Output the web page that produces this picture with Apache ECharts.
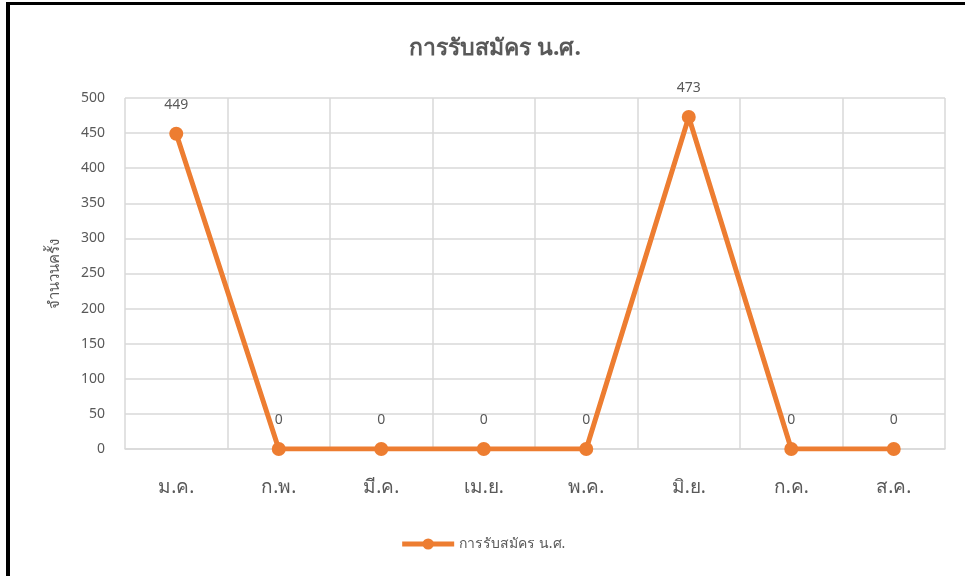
<!DOCTYPE html>
<html>
<head>
<meta charset="utf-8">
<title>การรับสมัคร น.ศ.</title>
<script src="https://cdn.jsdelivr.net/npm/echarts@6/dist/echarts.min.js"></script>
<style>
  html, body { margin: 0; padding: 0; background: #fff; }
  /* frame like the pasted chart: thick left edge and top edge */
  #frame {
    position: absolute; left: 6px; top: 2px; width: 959px; height: 574px;
    border-left: 4px solid #000; border-top: 3px solid #000;
  }
  #chart { position: absolute; left: 0; top: 0; width: 965px; height: 576px; }
</style>
</head>
<body>
<div id="frame"></div>
<div id="chart"></div>
<script>
// ข้อมูลกราฟ
var months = ["ม.ค.", "ก.พ.", "มี.ค.", "เม.ย.", "พ.ค.", "มิ.ย.", "ก.ค.", "ส.ค."];
var applicants = [449, 0, 0, 0, 0, 473, 0, 0];
var seriesName = "การรับสมัคร น.ศ.";

var font = "'Noto Sans', sans-serif";
var gray = "#595959";

var myChart = echarts.init(document.getElementById("chart"));
myChart.setOption({
  textStyle: { fontFamily: font },
  title: {
    text: "การรับสมัคร น.ศ.",
    left: 404,
    top: 32,
    textStyle: { fontSize: 23, fontWeight: "bold", color: gray, fontFamily: font }
  },
  legend: {
    bottom: 20,
    left: "center",
    itemWidth: 52,
    itemHeight: 14,
    itemGap: 4,
    lineStyle: { width: 5 },
    textStyle: { fontSize: 14, color: gray, fontFamily: font },
    data: [seriesName]
  },
  grid: { left: 125, right: 20, top: 98, bottom: 127, containLabel: false },
  xAxis: {
    type: "category",
    data: months,
    boundaryGap: true,
    axisLine: { show: true, lineStyle: { color: "#d9d9d9", width: 1.5 } },
    axisTick: { show: false },
    axisLabel: { fontSize: 19, color: gray, margin: 29, fontFamily: font },
    splitLine: { show: true, lineStyle: { color: "#d9d9d9", width: 1.5 } }
  },
  yAxis: {
    type: "value",
    min: 0,
    max: 500,
    interval: 50,
    name: "จำนวนครั้ง",
    nameLocation: "middle",
    nameGap: 63,
    nameRotate: 90,
    nameTextStyle: { fontSize: 15, color: gray, fontFamily: font },
    axisLine: { show: false },
    axisTick: { show: false },
    axisLabel: { fontSize: 14, color: gray, margin: 20, fontFamily: font },
    splitLine: { lineStyle: { color: "#d9d9d9", width: 1.5 } }
  },
  series: [
    {
      name: seriesName,
      type: "line",
      data: applicants,
      symbol: "circle",
      symbolSize: 14,
      lineStyle: { color: "#ED7D31", width: 5 },
      itemStyle: { color: "#ED7D31" },
      label: {
        show: true,
        position: "top",
        distance: 15,
        fontSize: 14,
        color: gray,
        fontFamily: font
      }
    }
  ]
});
</script>
</body>
</html>
